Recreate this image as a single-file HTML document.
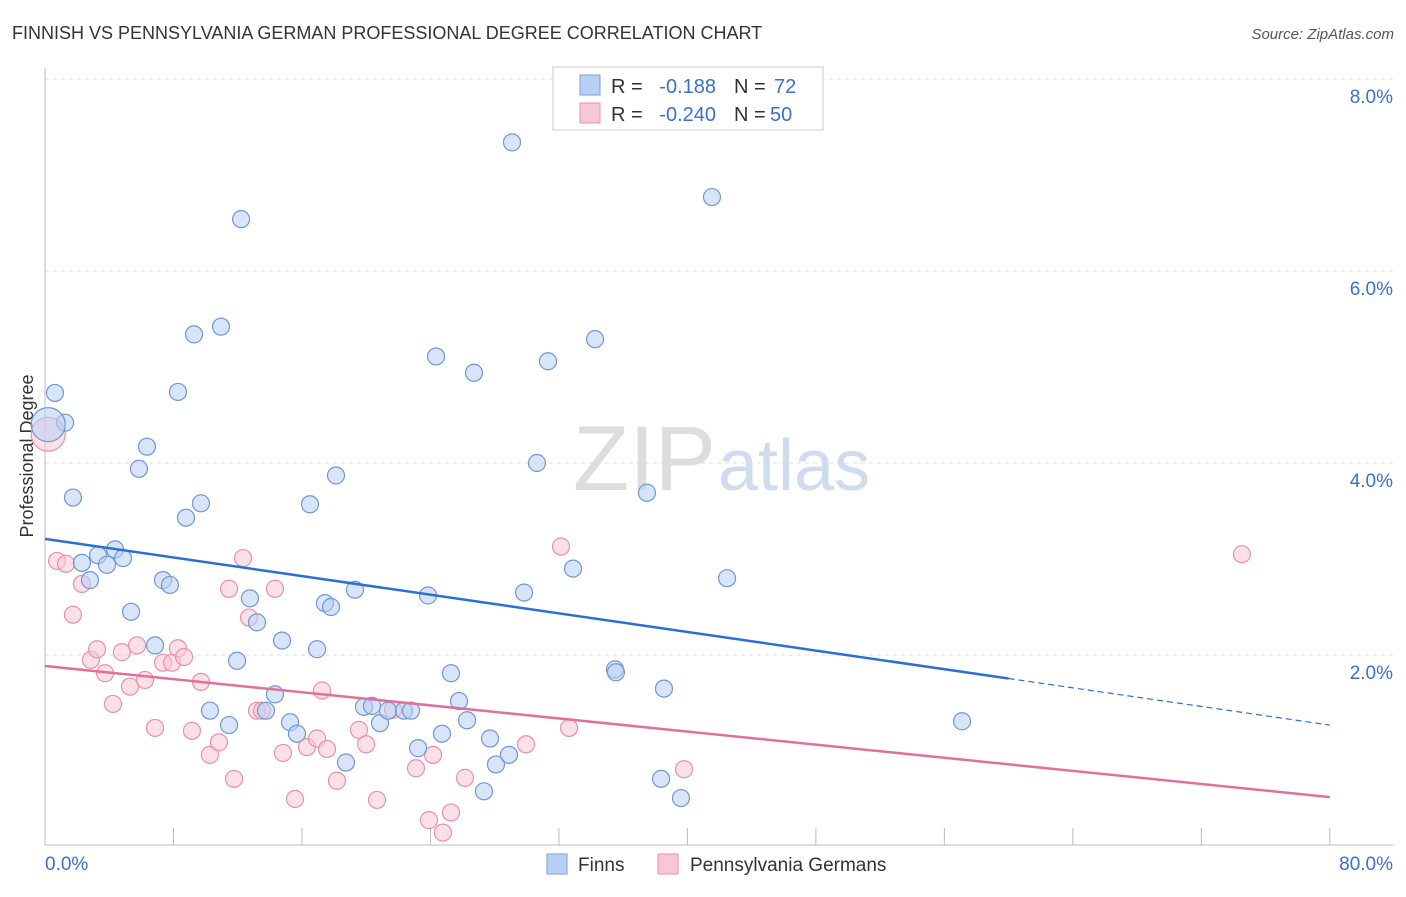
<!DOCTYPE html>
<html><head><meta charset="utf-8"><style>
body{margin:0;background:#fff;font-family:"Liberation Sans",sans-serif}
svg text{font-family:"Liberation Sans",sans-serif}
</style></head><body>
<svg id="chart" width="1406" height="892" xmlns="http://www.w3.org/2000/svg">
<text x="12" y="39" font-size="18" fill="#333">FINNISH VS PENNSYLVANIA GERMAN PROFESSIONAL DEGREE CORRELATION CHART</text>
<text x="1394" y="39" font-size="15" fill="#555" font-style="italic" text-anchor="end">Source: ZipAtlas.com</text>
<text x="0" y="0" font-size="18" fill="#333" text-anchor="middle" transform="translate(33,456) rotate(-90)">Professional Degree</text>
<g><text x="716" y="490" font-size="92" font-family="Liberation Serif" fill="#ddd" text-anchor="end">ZIP</text><text x="718" y="490" font-size="72" fill="#cfdcf0">atlas</text></g>
<g id="grid"></g><g id="marks"></g>
<g>
<rect x="553" y="67" width="270" height="63" fill="#fff" stroke="#ccc"/>
<rect x="580" y="75" width="20" height="20" fill="#b8d0f2" stroke="#7aa0de"/>
<rect x="580" y="103" width="20" height="20" fill="#f9c6d6" stroke="#e890ad"/>
<text x="611" y="93" font-size="20" fill="#333">R =</text><text x="716" y="93" font-size="20" fill="#3a6fd1" text-anchor="end">-0.188</text>
<text x="734" y="93" font-size="20" fill="#333">N =</text><text x="774" y="93" font-size="20" fill="#3a6fd1">72</text>
<text x="611" y="121" font-size="20" fill="#333">R =</text><text x="716" y="121" font-size="20" fill="#3a6fd1" text-anchor="end">-0.240</text>
<text x="734" y="121" font-size="20" fill="#333">N =</text><text x="770" y="121" font-size="20" fill="#3a6fd1">50</text>
</g>
<g>
<rect x="547" y="854" width="20" height="20" fill="#b8d0f2" stroke="#7aa0de"/>
<text x="578" y="871" font-size="19" fill="#333">Finns</text>
<rect x="658" y="854" width="20" height="20" fill="#f9c6d6" stroke="#e890ad"/>
<text x="690" y="871" font-size="19" fill="#333">Pennsylvania Germans</text>
</g>
</svg>
<script>
const yTicks=[2,4,6,8];
const yTickLabels=["2.0%","4.0%","6.0%","8.0%"];
const xTicks=[0,8,16,24,32,40,48,56,64,72,80];
const finnsX=[0.62,1.25,1.74,2.30,2.80,3.30,3.86,4.36,4.86,5.36,5.85,6.35,6.85,7.35,7.78,8.28,8.78,9.28,9.71,10.27,10.96,11.46,11.96,12.21,12.76,13.20,13.76,14.32,14.76,15.26,15.69,16.50,16.94,17.43,17.81,18.12,18.74,19.30,19.86,20.36,20.86,21.36,22.35,22.79,23.23,23.85,24.35,24.72,25.28,25.78,26.28,26.71,27.33,27.71,28.08,28.89,29.08,29.83,30.63,31.32,32.88,34.25,35.49,35.55,37.48,38.36,38.54,39.60,41.53,42.47,57.10,0.2];
const finnsY=[4.73,4.42,3.64,2.96,2.78,3.04,2.94,3.10,3.01,2.45,3.94,4.17,2.10,2.78,2.73,4.74,3.43,5.34,3.58,1.42,5.42,1.27,1.94,6.54,2.59,2.34,1.42,1.59,2.15,1.30,1.18,3.57,2.06,2.54,2.50,3.87,0.88,2.68,1.46,1.47,1.29,1.42,1.42,1.42,1.03,2.62,5.11,1.18,1.81,1.52,1.32,4.94,0.58,1.13,0.86,0.96,7.34,2.65,4.00,5.06,2.90,5.29,1.85,1.82,3.69,0.71,1.65,0.51,6.77,2.80,1.31,4.4];
const paX=[0.75,1.31,1.74,2.30,2.86,3.24,3.74,4.23,4.79,5.29,5.73,6.23,6.85,7.35,7.91,8.28,8.66,9.15,9.71,10.27,10.83,11.46,11.77,12.33,12.70,13.20,13.51,14.32,14.82,15.57,16.31,16.94,17.25,17.56,18.18,19.55,19.99,20.67,21.67,23.10,23.91,24.16,24.78,25.28,26.15,29.95,32.13,32.63,39.79,74.53,0.2];
const paY=[2.98,2.95,2.42,2.74,1.95,2.06,1.81,1.49,2.03,1.67,2.10,1.74,1.24,1.92,1.92,2.07,1.98,1.21,1.72,0.96,1.09,2.69,0.71,3.01,2.39,1.42,1.42,2.69,0.98,0.50,1.04,1.13,1.63,1.02,0.69,1.22,1.07,0.49,1.43,0.82,0.28,0.96,0.15,0.36,0.72,1.07,3.13,1.24,0.81,3.05,4.3];
const finnsTrend=[3.21,1.27];
const paTrend=[1.885,0.52];
const NS="http://www.w3.org/2000/svg";
const X=v=>45+v*16.06, Y=v=>847-v*96;
function mk(t,a,p){const e=document.createElementNS(NS,t);for(const k in a)e.setAttribute(k,a[k]);p.appendChild(e);return e;}
const g=document.getElementById('grid'),m=document.getElementById('marks');
yTicks.forEach((t,i)=>{
 const l=mk('line',{x1:45,x2:1393,y1:Y(t),y2:Y(t),stroke:'#ddd','stroke-dasharray':'4,4'},g);
 
 
 const tx=mk('text',{x:1393,y:Y(t)+24,'font-size':19,fill:'#3a6fd1','text-anchor':'end'},g);
 tx.textContent=yTickLabels[i];
 
 
});
const topLine=mk('line',{x1:45,x2:1393,y1:79,y2:79,stroke:'#ddd','stroke-dasharray':'4,4'},g);


const ax=mk('line',{x1:45,x2:1393,y1:845,y2:845,stroke:'#bbb'},g);


const ay=mk('line',{x1:45,x2:45,y1:68,y2:845,stroke:'#bbb'},g);


xTicks.forEach(t=>{const l=mk('line',{x1:X(t),x2:X(t),y1:828,y2:845,stroke:'#bbb'},g);
 
 });
[[0,'0.0%','start',45],[80,'80.0%','end',1393]].forEach(a=>{const t=mk('text',{x:a[3],y:870,'font-size':19,fill:'#3a6fd1','text-anchor':a[2]},g);t.textContent=a[1];
 
 });
function pts(xs,ys,fill,stroke,name){xs.forEach((x,i)=>{const big=i==xs.length-1;
 const c=mk('circle',{cx:X(x),cy:Y(ys[i]),r:big?17:8.5,fill:fill,'fill-opacity':0.55,stroke:stroke,'stroke-width':1.2},m);
 
 });}
pts(paX,paY,'#f9c6d6','#e890ad','pa-german-point');
pts(finnsX,finnsY,'#b8d0f2','#6f97d8','finn-point');
const fy=x=>finnsTrend[0]+(finnsTrend[1]-finnsTrend[0])*x/80;
let ln=mk('line',{x1:X(0),y1:Y(fy(0)),x2:X(60),y2:Y(fy(60)),stroke:'#2b6fd6','stroke-width':2.5},m);


ln=mk('line',{x1:X(60),y1:Y(fy(60)),x2:X(80),y2:Y(fy(80)),stroke:'#2b6fd6','stroke-width':1.2,'stroke-dasharray':'6,4'},m);


ln=mk('line',{x1:X(0),y1:Y(paTrend[0]),x2:X(80),y2:Y(paTrend[1]),stroke:'#e0709a','stroke-width':2.5},m);


</script>
</body></html>
